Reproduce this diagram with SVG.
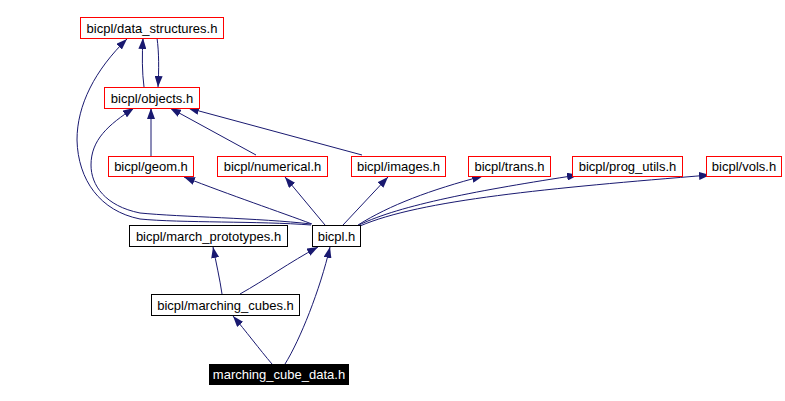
<svg xmlns="http://www.w3.org/2000/svg" width="785" height="401" viewBox="0 0 785 401">
<defs>
<marker id="ah" viewBox="0 0 11 8" refX="11" refY="4" markerWidth="11" markerHeight="8" markerUnits="userSpaceOnUse" orient="auto">
<path d="M0,0 L11,4 L0,8 z" fill="#191970"/>
</marker>
<style>
.e{fill:none;stroke:#191970;stroke-width:1;marker-end:url(#ah)}
.r{fill:#ffffff;stroke:#ff0000;stroke-width:1}
.k{fill:#ffffff;stroke:#000000;stroke-width:1}
.t{font-family:"Liberation Sans",Arial,sans-serif;font-size:13px;fill:#000000;text-anchor:middle}
</style>
</defs>
<rect width="785" height="401" fill="#ffffff"/>
<g id="connectors">
<path class="e" d="M144,87 C142,72 142,55 143,38"/>
<path class="e" d="M157,38 C159,52 159,70 158,87"/>
<path class="e" d="M311,225 C260,221 180,223 140,219 C100,211 78,180 77,140 C77,105 95,70 127,39"/>
<path class="e" d="M311,224 C260,218 180,217 140,213 C105,206 91,185 91,165 C91,140 108,125 134,108"/>
<path class="e" d="M151,156 L151,108"/>
<path class="e" d="M256,155 L170,108"/>
<path class="e" d="M362,155 L188,108"/>
<path class="e" d="M312,224 C280,212 230,195 184,177"/>
<path class="e" d="M325,225 L285,177"/>
<path class="e" d="M343,225 L388,177"/>
<path class="e" d="M358,225 C390,205 430,190 483,176"/>
<path class="e" d="M359,225 C400,205 480,190 578,175"/>
<path class="e" d="M360,226 C420,200 550,188 710,175"/>
<path class="e" d="M222,294 C220,280 216,262 213,247"/>
<path class="e" d="M240,294 C265,280 290,262 318,247"/>
<path class="e" d="M272,364 C260,350 245,330 233,316"/>
<path class="e" d="M285,364 C300,340 320,290 330,247"/>
</g>
<g id="data_structures"><rect class="r" x="80.5" y="17.5" width="143" height="21"/><text class="t" x="152" y="33">bicpl/data_structures.h</text></g>
<g id="objects"><rect class="r" x="104.5" y="87.5" width="95" height="21"/><text class="t" x="152" y="103">bicpl/objects.h</text></g>
<g id="geom"><rect class="r" x="108.5" y="156.5" width="85" height="20"/><text class="t" x="151" y="171">bicpl/geom.h</text></g>
<g id="numerical"><rect class="r" x="217.5" y="156.5" width="110" height="20"/><text class="t" x="272.5" y="171">bicpl/numerical.h</text></g>
<g id="images"><rect class="r" x="351.5" y="156.5" width="94" height="20"/><text class="t" x="398.5" y="171">bicpl/images.h</text></g>
<g id="trans"><rect class="r" x="468.5" y="156.5" width="82" height="20"/><text class="t" x="509.5" y="171">bicpl/trans.h</text></g>
<g id="prog_utils"><rect class="r" x="572.5" y="156.5" width="110" height="20"/><text class="t" x="627.5" y="171">bicpl/prog_utils.h</text></g>
<g id="vols"><rect class="r" x="706.5" y="156.5" width="75" height="20"/><text class="t" x="744" y="171">bicpl/vols.h</text></g>
<g id="march_prototypes"><rect class="k" x="129.5" y="225.5" width="158" height="21"/><text class="t" x="208.5" y="241">bicpl/march_prototypes.h</text></g>
<g id="bicpl"><rect class="k" x="312.5" y="225.5" width="48" height="21"/><text class="t" x="336.5" y="241">bicpl.h</text></g>
<g id="marching_cubes"><rect class="k" x="151.5" y="294.5" width="148" height="21"/><text class="t" x="225.5" y="310">bicpl/marching_cubes.h</text></g>
<g id="marching_cube_data"><rect x="209" y="364" width="140" height="21" fill="#000000"/><text class="t" x="279" y="379" style="fill:#ffffff">marching_cube_data.h</text></g>
</svg>
